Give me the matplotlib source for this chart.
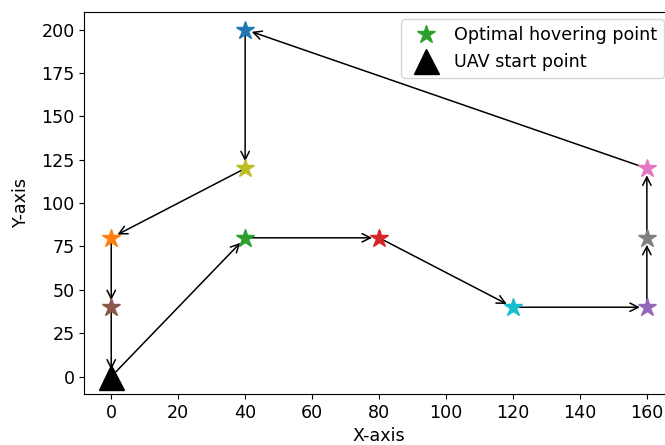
import matplotlib
matplotlib.use("Agg")
import matplotlib.pyplot as plt
from matplotlib.lines import Line2D

# hovering points (in colour order C0..C9)
hover_x = [40, 0, 40, 80, 160, 0, 160, 160, 40, 120]
hover_y = [200, 80, 80, 80, 40, 40, 120, 80, 120, 40]
start_x, start_y = 0, 0
# visiting order (indices into hover lists)
route = [2, 3, 9, 4, 7, 6, 0, 8, 1, 5]

plt.rcParams['font.size'] = 12.6
fig = plt.figure(figsize=(6.65, 4.45), dpi=100)
ax = fig.add_axes([0.127, 0.1146, 0.886, 0.858])

path_x = [start_x] + [hover_x[i] for i in route] + [start_x]
path_y = [start_y] + [hover_y[i] for i in route] + [start_y]
for k in range(len(path_x) - 1):
    ax.annotate('', xy=(path_x[k + 1], path_y[k + 1]), xytext=(path_x[k], path_y[k]),
                arrowprops=dict(arrowstyle='->', color='black', lw=1.1,
                                shrinkA=0, shrinkB=5, mutation_scale=15),
                zorder=2)

for i, (x, y) in enumerate(zip(hover_x, hover_y)):
    ax.plot(x, y, marker='*', color=f'C{i}', markersize=13.5, linestyle='none', zorder=3)

ax.plot(start_x, start_y, marker='^', color='black', markersize=18, linestyle='none', zorder=3)

ax.set_xlim(-8, 168)
ax.set_ylim(-10, 210)
ax.set_xticks([0, 20, 40, 60, 80, 100, 120, 140, 160])
ax.set_yticks([0, 25, 50, 75, 100, 125, 150, 175, 200])
ax.set_xlabel('X-axis', labelpad=4)
ax.set_ylabel('Y-axis', labelpad=8)

handles = [Line2D([], [], marker='*', color='C2', markersize=13.5, linestyle='none'),
           Line2D([], [], marker='^', color='black', markersize=18, linestyle='none')]
ax.legend(handles, ['Optimal hovering point', 'UAV start point'], loc='upper right',
          bbox_to_anchor=(0.983, 0.982), borderaxespad=0, handletextpad=0.6)

fig.savefig('out.png', dpi=100)
